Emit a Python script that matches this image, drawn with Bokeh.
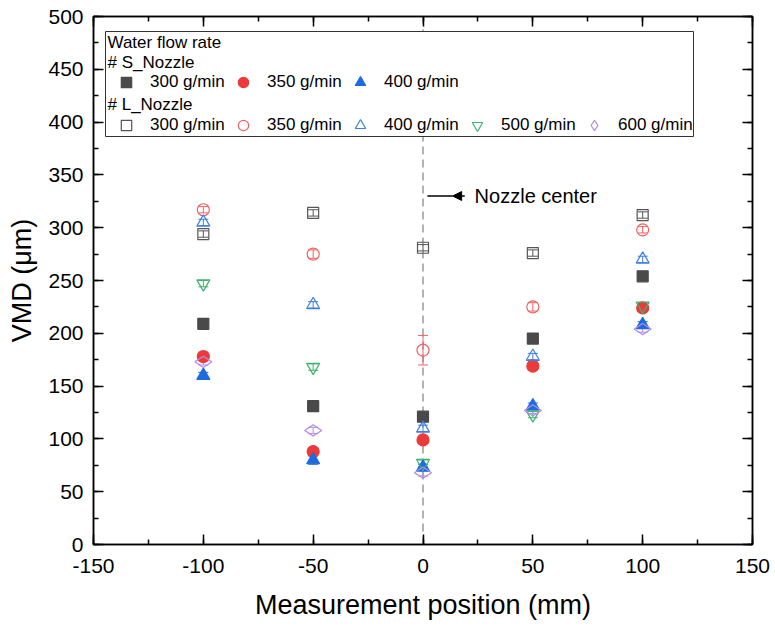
from bokeh.plotting import figure
from bokeh.models import (ColumnDataSource, LinearAxis, SingleIntervalTicker, Legend, LegendItem,
                          Label, BoxAnnotation, Span, Arrow, NormalHead, Whisker, TeeHead, Range1d,
                          CustomJSTickFormatter)
from bokeh.embed import file_html
from bokeh.resources import INLINE
import math

# Measurement positions (mm)
positions = [-100, -50, 0, 50, 100]

# VMD (um), S_Nozzle
s300 = [209, 131, 121, 195, 254]
s350 = [178, 88, 99, 169, 224]
s400 = [160, 80, 73, 131, 208]
s300_err = [4, 5, 4, 4, 3]
s350_err = [4, 3, 3, 3, 3]
s400_err = [3, 4, 3, 3, 3]

# VMD (um), L_Nozzle
l300 = [294, 314, 281, 276, 312]
l350 = [317, 275, 184, 225, 298]
l400 = [305, 227, 110, 178, 270]
l500 = [247, 168, 77, 123, 226]
l600 = [173, 108, 68, 127, 204]
l300_err = [3, 3, 3, 3, 3]
l350_err = [3, 4, 14, 4, 3]
l400_err = [3, 3, 3, 3, 3]
l500_err = [3, 3, 3, 3, 3]
l600_err = [3, 3, 3, 3, 3]

flow_labels = ["300 g/min", "350 g/min", "400 g/min", "500 g/min", "600 g/min"]

FONT = "Liberation Sans"

p = figure(width=775, height=629, x_range=Range1d(-150, 150), y_range=Range1d(0, 500),
           output_backend="svg", toolbar_location=None,
           min_border_left=93, min_border_right=23, min_border_top=16, min_border_bottom=85)
p.xgrid.visible = False
p.ygrid.visible = False
p.outline_line_color = "black"
p.outline_line_width = 1.5
p.background_fill_color = "white"
p.border_fill_color = "white"

bottom_axis = p.below[0]
left_axis = p.left[0]

xt = SingleIntervalTicker(interval=50, num_minor_ticks=2)
yt = SingleIntervalTicker(interval=50, num_minor_ticks=2)
bottom_axis.ticker = xt
left_axis.ticker = yt
# plain hyphen-minus for negative ticks
bottom_axis.formatter = CustomJSTickFormatter(code="return String(tick)")
bottom_axis.axis_label = "Measurement position (mm)"
left_axis.axis_label = "VMD (\u03bcm)"

# Mirror axes on top and right: ticks only
blank = CustomJSTickFormatter(code="return ''")
top_axis = LinearAxis(ticker=xt, formatter=blank)
right_axis = LinearAxis(ticker=yt, formatter=blank)
p.add_layout(top_axis, "above")
p.add_layout(right_axis, "right")

for ax in [bottom_axis, left_axis, top_axis, right_axis]:
    ax.axis_line_color = "black"
    ax.axis_line_width = 1.5
    ax.major_tick_in = 10
    ax.major_tick_out = 0
    ax.minor_tick_in = 5
    ax.minor_tick_out = 0
    ax.major_tick_line_color = "black"
    ax.major_tick_line_width = 1.5
    ax.minor_tick_line_color = "black"
    ax.minor_tick_line_width = 1.5
    ax.major_label_text_font = FONT
    ax.major_label_text_font_size = "21px"
    ax.major_label_text_color = "black"
    ax.axis_label_text_font = FONT
    ax.axis_label_text_font_size = "27px"
    ax.axis_label_text_font_style = "normal"
    ax.axis_label_text_color = "black"

for ax in [top_axis, right_axis]:
    ax.major_label_standoff = 0

bottom_axis.major_label_standoff = 14
bottom_axis.axis_label_standoff = 14
left_axis.major_label_standoff = 10
left_axis.axis_label_standoff = 8

# Nozzle center guide line
center_line = Span(location=0, dimension="height", line_color="#b3b3b3",
                   line_dash="8 5", line_width=2, level="underlay")
p.add_layout(center_line)

series = [
    ("s300", s300, s300_err, "square", "#4a4a4a", True, 11),
    ("s350", s350, s350_err, "circle", "#ec3a3a", True, 12),
    ("s400", s400, s400_err, "triangle", "#1c6be0", True, 13),
    ("l300", l300, l300_err, "square", "#555555", False, 11),
    ("l350", l350, l350_err, "circle", "#f26262", False, 12),
    ("l400", l400, l400_err, "triangle", "#3d7fe6", False, 13),
    ("l500", l500, l500_err, "inverted_triangle", "#3cb46e", False, 13),
    ("l600", l600, l600_err, "diamond", "#b58ae8", False, 17),
]

renderers = {}
for name, vals, errs, marker, color, filled, size in series:
    src = ColumnDataSource(dict(
        x=positions, y=vals,
        upper=[v + e for v, e in zip(vals, errs)],
        lower=[v - e for v, e in zip(vals, errs)],
    ))
    w = Whisker(base="x", upper="upper", lower="lower", source=src, dimension="height",
                line_color=color, line_width=1,
                upper_head=TeeHead(size=10, line_color=color, line_width=1),
                lower_head=TeeHead(size=10, line_color=color, line_width=1))
    p.add_layout(w)
    angle = math.pi / 2 if marker == "diamond" else 0
    r = p.scatter("x", "y", source=src, marker=marker, size=size, angle=angle,
                  line_color=color, line_width=1.2,
                  fill_color=color if filled else None,
                  fill_alpha=1 if filled else 0)
    renderers[name] = r

# Arrow pointing at the nozzle center line
p.add_layout(Arrow(end=None, x_start=13.5, y_start=330, x_end=2, y_end=330,
                   line_color="black", line_width=1.5))
p.add_layout(Arrow(end=NormalHead(size=9, fill_color="black", line_color="black"),
                   x_start=19, y_start=330, x_end=13.5, y_end=330,
                   line_color="black", line_width=1.5))
p.add_layout(Label(x=23.5, y=330, text="Nozzle center", text_baseline="middle",
                   text_font=FONT, text_font_size="20px", text_color="black"))

# Legend block
legend_box = BoxAnnotation(left=12, right=600, top=513, bottom=408,
                           left_units="screen", right_units="screen",
                           top_units="screen", bottom_units="screen",
                           fill_color="white", fill_alpha=1,
                           line_color="#333333", line_width=1, line_alpha=1)
p.add_layout(legend_box)

for txt, vy in [("Water flow rate", 502), ("# S_Nozzle", 482), ("# L_Nozzle", 440)]:
    p.add_layout(Label(x=14, y=vy, x_units="screen", y_units="screen", text=txt,
                       text_baseline="middle", text_font=FONT, text_font_size="17px",
                       text_color="black"))

def row_legend(names, loc):
    items = [LegendItem(label=flow_labels[i], renderers=[renderers[n]]) for i, n in enumerate(names)]
    lg = Legend(items=items, orientation="horizontal", location=loc,
                border_line_color=None, background_fill_alpha=0, padding=0, margin=0,
                spacing=5, glyph_width=26, glyph_height=26, label_width=75, label_height=26,
                label_standoff=11, label_text_font=FONT, label_text_font_size="17px",
                label_text_color="black")
    p.add_layout(lg)

row_legend(["s300", "s350", "s400"], (20, 449))
row_legend(["l300", "l350", "l400", "l500", "l600"], (20, 406))

open("out.html", "w").write(file_html(p, INLINE))
